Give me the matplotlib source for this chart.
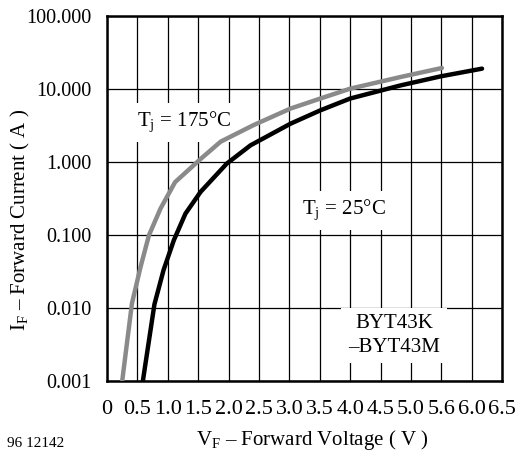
import matplotlib
matplotlib.use("Agg")
import matplotlib.pyplot as plt
from matplotlib.ticker import FixedLocator, FixedFormatter, NullLocator

plt.rcParams["font.family"] = ["Liberation Serif", "DejaVu Serif"]
plt.rcParams["mathtext.fontset"] = "custom"
plt.rcParams["mathtext.rm"] = "Liberation Serif"

# Tj = 175 C curve (gray)
vf_175 = [0.25, 0.41, 0.55, 0.69, 0.88, 1.12, 1.54, 1.87, 2.41, 3.02, 3.51, 4.00, 4.83, 5.51]
if_175 = [0.001, 0.0115, 0.036, 0.099, 0.23, 0.53, 1.1, 1.9, 3.2, 5.4, 7.4, 10.1, 14.6, 19.4]

# Tj = 25 C curve (black)
vf_25 = [0.59, 0.78, 0.93, 1.10, 1.29, 1.54, 1.97, 2.36, 3.02, 3.51, 4.00, 4.83, 5.49, 6.17]
if_25 = [0.001, 0.0112, 0.033, 0.085, 0.196, 0.39, 0.95, 1.69, 3.35, 5.1, 7.4, 11.2, 14.9, 19.0]

x_ticks = [0, 0.5, 1.0, 1.5, 2.0, 2.5, 3.0, 3.5, 4.0, 4.5, 5.0, 5.5, 6.0, 6.5]
x_labels = ["0", "0.5", "1.0", "1.5", "2.0", "2.5", "3.0", "3.5", "4.0", "4.5",
            "5.0", "5.6", "6.0", "6.5"]
y_ticks = [0.001, 0.01, 0.1, 1, 10, 100]
y_labels = ["0.001", "0.010", "0.100", "1.000", "10.000", "100.000"]

fig = plt.figure(figsize=(5.23, 4.57), dpi=100)
ax = fig.add_axes([0.2046, 0.1663, 0.7554, 0.7987])

ax.plot(vf_175, if_175, color="#8a8a8a", lw=3.2, solid_capstyle="round", zorder=3)
ax.plot(vf_25, if_25, color="black", lw=3.2, solid_capstyle="round", zorder=3)

ax.set_yscale("log")
ax.set_xlim(0, 6.5)
ax.set_ylim(0.001, 100)
ax.xaxis.set_major_locator(FixedLocator(x_ticks))
ax.xaxis.set_major_formatter(FixedFormatter(x_labels))
ax.yaxis.set_major_locator(FixedLocator(y_ticks))
ax.yaxis.set_major_formatter(FixedFormatter(y_labels))
ax.yaxis.set_minor_locator(NullLocator())
ax.tick_params(axis="x", length=0, labelsize=16, pad=14)
ax.tick_params(axis="y", length=0, labelsize=14.5, pad=11)
ax.grid(True, color="black", lw=0.9)
for s in ax.spines.values():
    s.set_linewidth(1.8)

box = dict(facecolor="white", edgecolor="none", pad=5)
ax.text(0.5, 3.45, r"T$_\mathregular{j}$ = 175°C", fontsize=15, va="center",
        ha="left", bbox=box, zorder=2)
ax.text(3.2, 0.215, r"T$_\mathregular{j}$ = 25°C", fontsize=15, va="center",
        ha="left", bbox=box, zorder=2)
ax.text(4.72, 0.0042, "BYT43K\n–BYT43M", fontsize=15, va="center", ha="center",
        linespacing=1.3, bbox=box, zorder=2)

ax.set_xlabel(r"V$_\mathregular{F}$ – Forward Voltage ( V )", fontsize=15, va="top")
ax.xaxis.set_label_coords(0.52, -0.13)
ax.set_ylabel(r"I$_\mathregular{F}$ – Forward Current ( A )", fontsize=15)
ax.yaxis.set_label_coords(-0.19, 0.44)
fig.text(0.013, 0.022, "96 12142", fontsize=11)

fig.savefig("out.png", dpi=100)
